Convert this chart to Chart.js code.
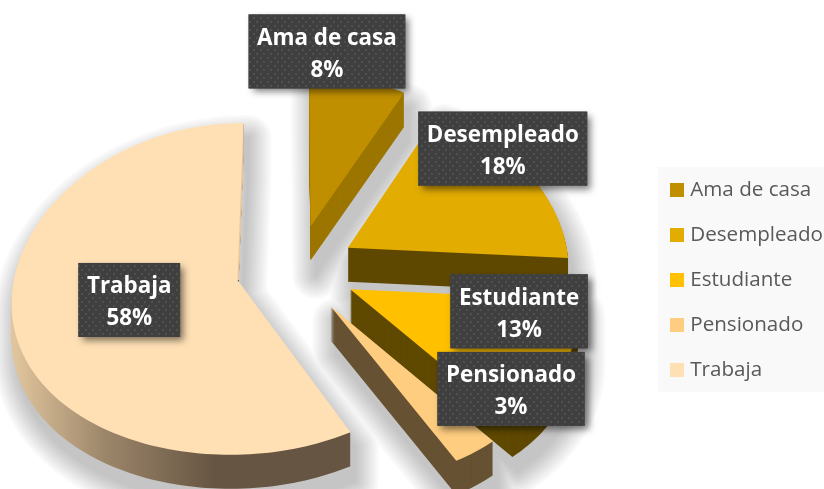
<!DOCTYPE html>
<html>
<head>
<meta charset="utf-8">
<title>Ocupación</title>
<script src="https://cdn.jsdelivr.net/npm/chart.js@4/dist/chart.umd.min.js"></script>
<style>
html, body { margin: 0; padding: 0; background: #fff; }
canvas { display: block; }
</style>
</head>
<body>
<canvas id="pieChart" width="824" height="489"></canvas>
<script>
const categories = ['Ama de casa', 'Desempleado', 'Estudiante', 'Pensionado', 'Trabaja'];
const percents = [8, 18, 13, 3, 58];

const topColors = ['#BF8F00', '#E2AC00', '#FFC000', '#FFCD7F', '#FFE0B5'];
const sideColors = ['#9C7500', '#5F4800', '#5F4800', '#665233', null];
const labelShifts = [[-13, -85], [45, -53], [43, -24], [97, -3], [25, -5]];

// fake 3D view of the flat pie
const view = { cx: 296, cy: 269, tiltY: 0.74, farX: 2000, farY: 4200, depth: 34 };

function project(u, v) {
    return {
        x: view.cx + u / (1 - v / view.farX),
        y: view.cy + view.tiltY * v / (1 - v / view.farY)
    };
}

function slicePoints(arc) {
    const p = arc.getProps(['startAngle', 'endAngle', 'outerRadius'], true);
    const mid = (p.startAngle + p.endAngle) / 2;
    const ox = arc.options.offset * Math.cos(mid);
    const oy = arc.options.offset * Math.sin(mid);
    const r = p.outerRadius;
    const pts = [project(ox, oy)];
    const steps = Math.ceil((p.endAngle - p.startAngle) * 40);
    for (let i = 0; i <= steps; i++) {
        const a = p.startAngle + (p.endAngle - p.startAngle) * i / steps;
        pts.push(project(ox + r * Math.cos(a), oy + r * Math.sin(a)));
    }
    return pts;
}

function addPolygon(ctx, pts, dy) {
    pts.forEach((pt, i) => {
        if (i === 0) ctx.moveTo(pt.x, pt.y + dy);
        else ctx.lineTo(pt.x, pt.y + dy);
    });
    ctx.closePath();
}

function tracePath(ctx, pts, dy) {
    ctx.beginPath();
    addPolygon(ctx, pts, dy);
}

function extrude(ctx, pts) {
    for (let d = view.depth; d > 0; d--) {
        tracePath(ctx, pts, d);
        ctx.fill();
    }
}

function dotPattern(ctx) {
    const tile = document.createElement('canvas');
    tile.width = 7;
    tile.height = 8;
    const t = tile.getContext('2d');
    t.fillStyle = '#3F3F3F';
    t.fillRect(0, 0, 7, 8);
    t.fillStyle = '#505050';
    t.fillRect(1, 1, 2, 2);
    t.fillRect(4, 5, 2, 2);
    return ctx.createPattern(tile, 'repeat');
}

function swatch(color) {
    const c = document.createElement('canvas');
    c.width = 14;
    c.height = 14;
    const g = c.getContext('2d');
    g.fillStyle = color;
    g.fillRect(0, 0, 14, 14);
    return c;
}

const legendPanel = {
    id: 'legendPanel',
    beforeDraw(chart) {
        chart.ctx.fillStyle = '#F9F9F9';
        chart.ctx.fillRect(658, 167, 166, 225);
    }
};

const pie3d = {
    id: 'pie3d',
    beforeDatasetsDraw(chart) {
        const ctx = chart.ctx;
        const arcs = chart.getDatasetMeta(0).data;
        const shapes = arcs.map(arc => slicePoints(arc));

        // soft shadow: stacked wide strokes around the slices, which get painted over it
        ctx.save();
        ctx.translate(5, 15);
        ctx.lineJoin = 'round';
        ctx.strokeStyle = 'rgba(0,0,0,0.024)';
        ctx.beginPath();
        shapes.forEach(pts => {
            for (let d = 0; d <= view.depth; d += 2) addPolygon(ctx, pts, d);
        });
        for (let w = 2; w <= 46; w += 4) {
            ctx.lineWidth = w;
            ctx.stroke();
        }
        ctx.restore();

        shapes.forEach((pts, i) => {
            let side = sideColors[i];
            if (!side) {
                const grad = ctx.createLinearGradient(15, 0, 215, 0);
                grad.addColorStop(0, '#E0C49C');
                grad.addColorStop(0.45, '#9C866A');
                grad.addColorStop(1, '#665542');
                side = grad;
            }
            ctx.fillStyle = side;
            extrude(ctx, pts);
            if (!sideColors[i]) {
                // lit cut face of the big slice, above its apex
                ctx.save();
                ctx.beginPath();
                ctx.rect(0, 0, chart.width, pts[0].y);
                ctx.clip();
                ctx.fillStyle = '#E8C89F';
                extrude(ctx, pts);
                ctx.restore();
            }
            ctx.fillStyle = topColors[i];
            tracePath(ctx, pts, 0);
            ctx.fill();
        });

        // data labels
        const pattern = dotPattern(ctx);
        ctx.font = 'bold 22.4px "Open Sans"';
        ctx.textAlign = 'center';
        ctx.textBaseline = 'middle';
        arcs.forEach((arc, i) => {
            const p = arc.getProps(['startAngle', 'endAngle', 'outerRadius'], true);
            const mid = (p.startAngle + p.endAngle) / 2;
            const dist = arc.options.offset + p.outerRadius * 0.6;
            const at = project(dist * Math.cos(mid), dist * Math.sin(mid));
            const lx = at.x + labelShifts[i][0];
            const ly = at.y + labelShifts[i][1];
            const w = ctx.measureText(categories[i]).width + 17;
            const h = 74;
            ctx.save();
            ctx.shadowColor = 'rgba(0,0,0,0.5)';
            ctx.shadowBlur = 7;
            ctx.shadowOffsetX = 4;
            ctx.shadowOffsetY = 4;
            ctx.fillStyle = '#3F3F3F';
            ctx.fillRect(lx - w / 2, ly - h / 2, w, h);
            ctx.restore();
            ctx.fillStyle = pattern;
            ctx.fillRect(lx - w / 2, ly - h / 2, w, h);
            ctx.fillStyle = '#fff';
            ctx.fillText(categories[i], lx, ly - 13);
            ctx.fillText(percents[i] + '%', lx, ly + 19);
        });
        return false;
    }
};

new Chart(document.getElementById('pieChart').getContext('2d'), {
    type: 'pie',
    data: {
        labels: categories,
        datasets: [{
            data: percents,
            backgroundColor: topColors,
            borderWidth: 0,
            offset: 60
        }]
    },
    options: {
        responsive: false,
        animation: false,
        radius: 222,
        layout: { padding: { top: 71, right: -9 } },
        plugins: {
            tooltip: { enabled: false },
            legend: {
                position: 'right',
                labels: {
                    color: '#595959',
                    font: { family: '"Open Sans"', size: 20.6 },
                    padding: 24.4,
                    usePointStyle: true,
                    pointStyleWidth: 6,
                    generateLabels: () => categories.map((name, i) => ({
                        text: name,
                        fontColor: '#595959',
                        pointStyle: swatch(topColors[i]),
                        index: i
                    }))
                }
            }
        }
    },
    plugins: [legendPanel, pie3d]
});
</script>
</body>
</html>
